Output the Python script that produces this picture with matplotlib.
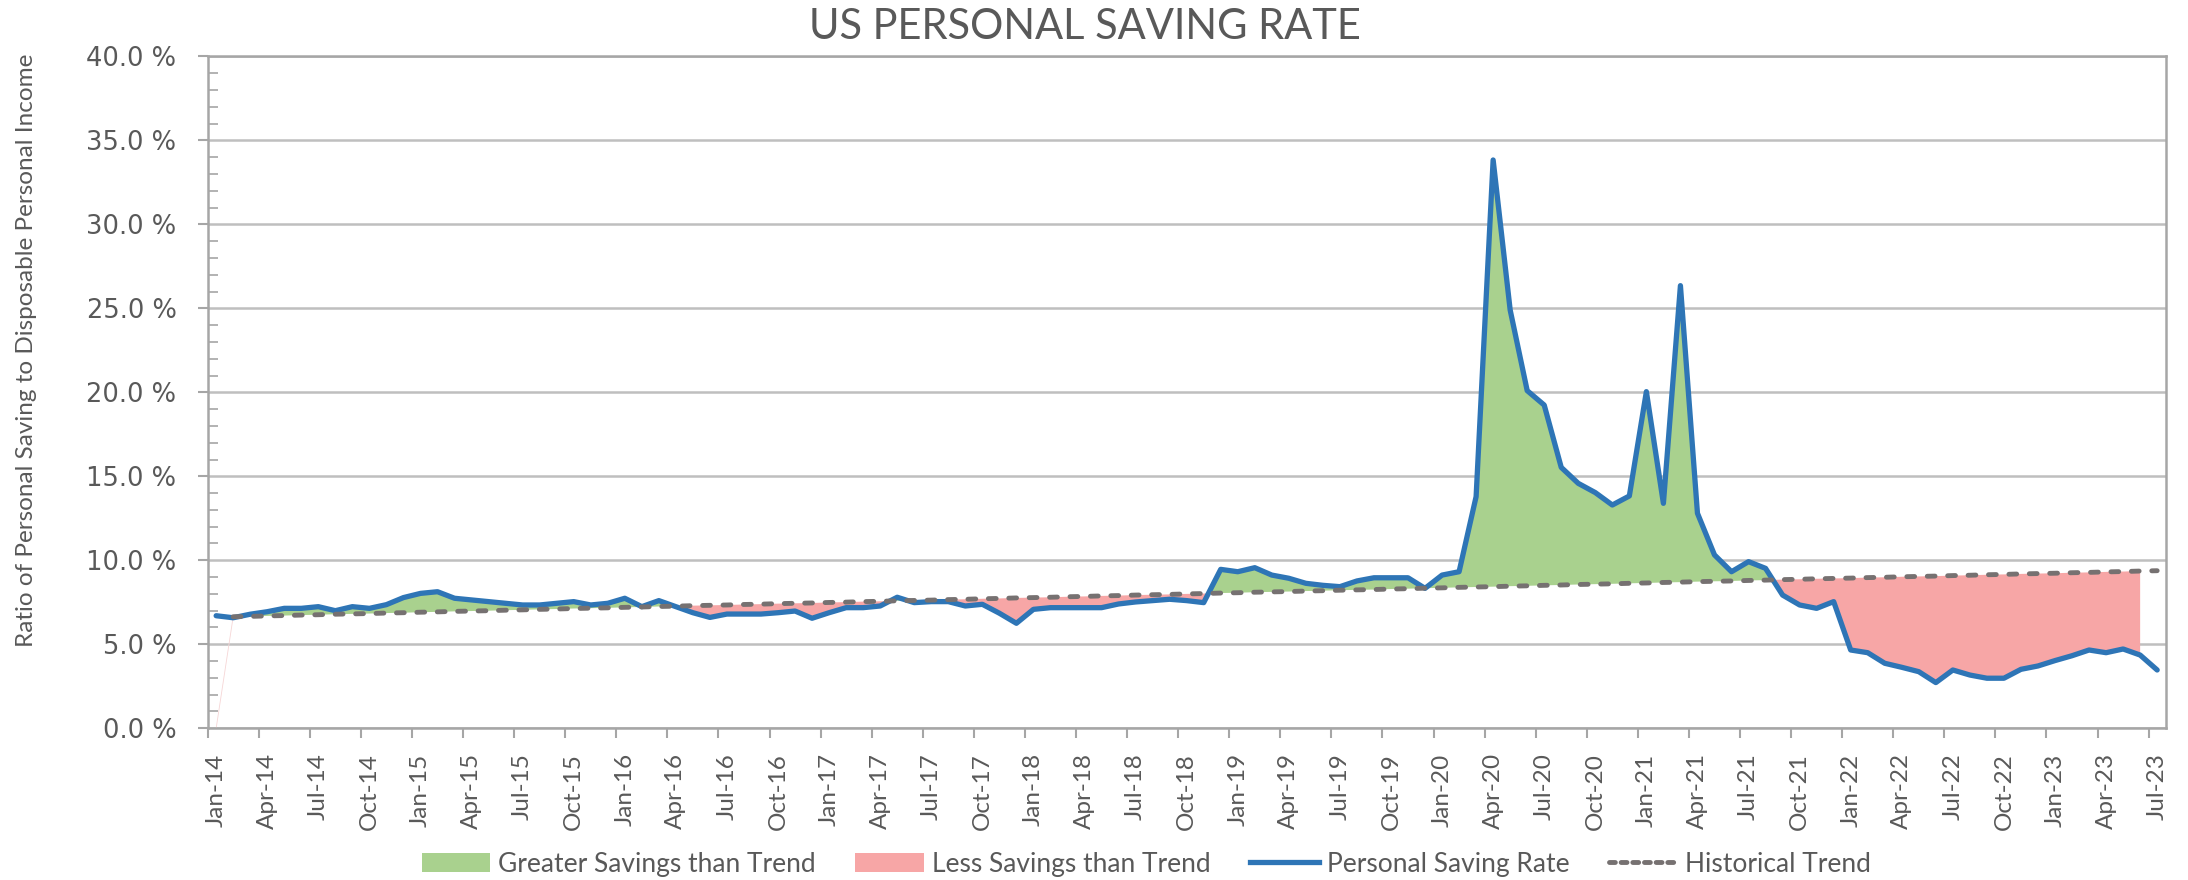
import numpy as np
import matplotlib.pyplot as plt
from matplotlib.patches import Patch
from matplotlib.lines import Line2D

# Monthly personal saving rate (%), Jan-14 .. Jul-23
saving_rate = [
    6.70, 6.58, 6.79, 6.94, 7.14, 7.14, 7.24, 7.00, 7.24, 7.14, 7.36, 7.78,   # 2014
    8.03, 8.13, 7.74, 7.64, 7.54, 7.44, 7.34, 7.34, 7.44, 7.54, 7.34, 7.44,   # 2015
    7.74, 7.24, 7.60, 7.24, 6.88, 6.60, 6.80, 6.80, 6.80, 6.88, 6.98, 6.55,   # 2016
    6.88, 7.18, 7.18, 7.28, 7.80, 7.48, 7.54, 7.54, 7.28, 7.38, 6.85, 6.25,   # 2017
    7.08, 7.18, 7.18, 7.18, 7.18, 7.40, 7.52, 7.60, 7.68, 7.60, 7.48, 9.46,   # 2018
    9.32, 9.56, 9.12, 8.93, 8.63, 8.51, 8.43, 8.77, 8.96, 8.96, 8.96, 8.33,   # 2019
    9.12, 9.32, 13.79, 33.83, 24.90, 20.10, 19.24, 15.53, 14.58, 14.03, 13.29, 13.83,  # 2020
    20.04, 13.39, 26.35, 12.80, 10.32, 9.32, 9.92, 9.52, 7.93, 7.34, 7.14, 7.54,  # 2021
    4.66, 4.50, 3.87, 3.63, 3.37, 2.72, 3.47, 3.17, 2.98, 2.98, 3.51, 3.71,   # 2022
    4.03, 4.32, 4.66, 4.50, 4.72, 4.36, 3.47,                                 # 2023
]

# Historical trend (%), starts Feb-14
historical_trend = [
    None, 6.64, 6.66, 6.69, 6.71, 6.74, 6.76, 6.79, 6.81, 6.83, 6.86, 6.88,
    6.91, 6.93, 6.96, 6.98, 7.00, 7.03, 7.05, 7.08, 7.10, 7.13, 7.15, 7.17,
    7.20, 7.22, 7.25, 7.27, 7.30, 7.32, 7.34, 7.37, 7.39, 7.42, 7.44, 7.46,
    7.49, 7.51, 7.54, 7.56, 7.59, 7.61, 7.63, 7.66, 7.68, 7.71, 7.73, 7.76,
    7.78, 7.80, 7.83, 7.85, 7.88, 7.90, 7.93, 7.95, 7.97, 8.00, 8.02, 8.05,
    8.07, 8.10, 8.12, 8.14, 8.17, 8.19, 8.22, 8.24, 8.26, 8.29, 8.31, 8.34,
    8.36, 8.39, 8.41, 8.43, 8.46, 8.48, 8.51, 8.53, 8.56, 8.58, 8.60, 8.63,
    8.65, 8.68, 8.70, 8.73, 8.75, 8.77, 8.80, 8.82, 8.85, 8.87, 8.90, 8.92,
    8.94, 8.97, 8.99, 9.02, 9.04, 9.06, 9.09, 9.11, 9.14, 9.16, 9.19, 9.21,
    9.23, 9.26, 9.28, 9.31, 9.33, 9.36, 9.38,
]

tick_labels = [
    'Jan-14', 'Apr-14', 'Jul-14', 'Oct-14', 'Jan-15', 'Apr-15', 'Jul-15', 'Oct-15',
    'Jan-16', 'Apr-16', 'Jul-16', 'Oct-16', 'Jan-17', 'Apr-17', 'Jul-17', 'Oct-17',
    'Jan-18', 'Apr-18', 'Jul-18', 'Oct-18', 'Jan-19', 'Apr-19', 'Jul-19', 'Oct-19',
    'Jan-20', 'Apr-20', 'Jul-20', 'Oct-20', 'Jan-21', 'Apr-21', 'Jul-21', 'Oct-21',
    'Jan-22', 'Apr-22', 'Jul-22', 'Oct-22', 'Jan-23', 'Apr-23', 'Jul-23',
]

GREEN = '#A9D18E'
PINK = '#F7A6A6'
BLUE = '#2E75B6'
TREND = '#767171'
GRID = '#BFBFBF'
TEXT = '#595959'

plt.rcParams['font.family'] = ['Lato', 'DejaVu Sans']

rate = np.array(saving_rate, dtype=float)
trend = np.array([np.nan if v is None else v for v in historical_trend], dtype=float)
x = np.arange(len(rate))

fig = plt.figure(figsize=(21.88, 8.8), dpi=100)
ax = fig.add_axes([0.0949, 0.1724, 0.8949, 0.7636])

# shaded areas (the area series stops one month before the line)
xf, rf, tf = x[1:-1], rate[1:-1], trend[1:-1]
ax.fill_between(xf, tf, rf, where=rf >= tf, interpolate=True, color=GREEN, lw=0, zorder=2)
ax.fill_between(xf, tf, rf, where=rf <= tf, interpolate=True, color=PINK, lw=0, zorder=2)
ax.plot(x[:2], [0, trend[1]], color='#F6D6D6', lw=0.6, zorder=2)

ax.plot(x, rate, color=BLUE, lw=3.8, solid_joinstyle='round', solid_capstyle='round', zorder=3)
ax.plot(x, trend, color=TREND, lw=3.5, dashes=(1.6, 2.6), dash_capstyle='round', zorder=4)

ax.set_xlim(-0.5, len(rate) - 0.5)
ax.set_ylim(0, 40)

# y axis
ax.set_yticks(np.arange(0, 41, 5))
ax.set_yticks(np.arange(0, 41, 1), minor=True)
ax.set_yticklabels([f'{v:.1f} %' for v in np.arange(0, 41, 5)], family='DejaVu Sans',
                   fontsize=18.5, color=TEXT)
ax.tick_params(axis='y', which='major', direction='out', length=7.5, width=1.5, color='#A6A6A6', pad=15)
ax.tick_params(axis='y', which='minor', direction='in', length=7, width=1.2, color='#A6A6A6')
ax.grid(axis='y', which='major', color=GRID, lw=1.8, zorder=0)
ax.set_axisbelow(True)

# x axis: tick marks between categories, labels on categories
pos = np.arange(0, len(rate), 3)
ax.set_xticks(pos - 0.5)
ax.set_xticklabels([])
ax.set_xticks(pos, minor=True)
ax.set_xticklabels(tick_labels, minor=True, rotation=90, ha='center', va='top',
                   fontsize=17.5, color=TEXT)
ax.tick_params(axis='x', which='major', direction='out', length=7, width=1.5, color='#A6A6A6')
ax.tick_params(axis='x', which='minor', length=0, pad=18)

for s in ax.spines.values():
    s.set_color('#A6A6A6')
    s.set_linewidth(1.8)

fig.text(0.496, 0.969, 'US PERSONAL SAVING RATE', ha='center', va='center',
         fontsize=30, color=TEXT)
fig.text(0.012, 0.602, 'Ratio of Personal Saving to Disposable Personal Income',
         rotation=90, ha='center', va='center', fontsize=17.5, color=TEXT)

handles = [
    Patch(facecolor=GREEN, edgecolor='none'),
    Patch(facecolor=PINK, edgecolor='none'),
    Line2D([], [], color=BLUE, lw=3.8),
    Line2D([], [], color=TREND, lw=3.5, dashes=(1.2, 1.2), dash_capstyle='round'),
]
labels = ['Greater Savings than Trend', 'Less Savings than Trend',
          'Personal Saving Rate', 'Historical Trend']
fig.legend(handles, labels, loc='center', bbox_to_anchor=(0.524, 0.018), ncol=4,
           frameon=False, fontsize=19, labelcolor=TEXT, handlelength=2.6,
           handleheight=0.75, handletextpad=0.3, columnspacing=1.5)

fig.savefig('out.png', dpi=100)
